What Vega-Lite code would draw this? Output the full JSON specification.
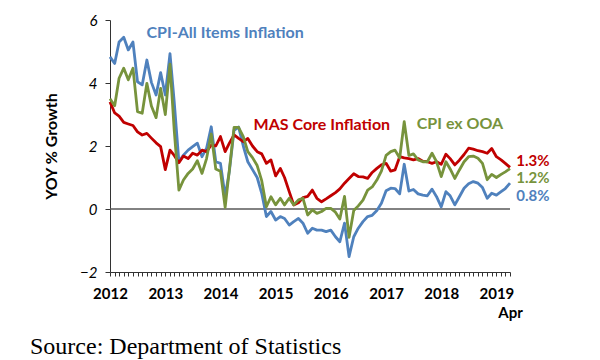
{
  "$schema": "https://vega.github.io/schema/vega-lite/v6.json",
  "width": 400,
  "height": 252,
  "autosize": {"type": "none"},
  "padding": {"left": 110, "top": 20, "right": 90, "bottom": 88},
  "background": "white",
  "config": {"view": {"stroke": null}, "font": "Lato"},
  "title": {"text": "Source: Department of Statistics", "orient": "bottom", "anchor": "start", "frame": "group", "dx": -80, "offset": 15, "font": "Liberation Serif", "fontSize": 24, "fontWeight": "normal", "color": "black"},
  "layer": [
    {
      "data": {"values": [{}]},
      "mark": {"type": "rule", "color": "#595959", "strokeWidth": 1.5},
      "encoding": {"y": {"datum": 0, "type": "quantitative"}}
    },
    {
      "data": {"values": [
        {"date": "2012-01-01", "cpi": 4.83, "core": 3.4, "exooa": 3.5},
        {"date": "2012-02-01", "cpi": 4.62, "core": 3.05, "exooa": 3.28},
        {"date": "2012-03-01", "cpi": 5.3, "core": 2.95, "exooa": 4.15},
        {"date": "2012-04-01", "cpi": 5.45, "core": 2.75, "exooa": 4.47},
        {"date": "2012-05-01", "cpi": 5.05, "core": 2.7, "exooa": 4.1},
        {"date": "2012-06-01", "cpi": 5.3, "core": 2.65, "exooa": 4.47},
        {"date": "2012-07-01", "cpi": 4.04, "core": 2.45, "exooa": 3.09},
        {"date": "2012-08-01", "cpi": 3.94, "core": 2.35, "exooa": 3.04},
        {"date": "2012-09-01", "cpi": 4.73, "core": 2.4, "exooa": 3.99},
        {"date": "2012-10-01", "cpi": 4.02, "core": 2.25, "exooa": 3.27},
        {"date": "2012-11-01", "cpi": 3.62, "core": 2.1, "exooa": 2.9},
        {"date": "2012-12-01", "cpi": 4.33, "core": 1.98, "exooa": 3.83},
        {"date": "2013-01-01", "cpi": 3.62, "core": 1.25, "exooa": 3.0},
        {"date": "2013-02-01", "cpi": 4.93, "core": 1.87, "exooa": 4.6},
        {"date": "2013-03-01", "cpi": 3.4, "core": 1.7, "exooa": 2.5},
        {"date": "2013-04-01", "cpi": 1.5, "core": 1.47, "exooa": 0.6},
        {"date": "2013-05-01", "cpi": 1.71, "core": 1.68, "exooa": 0.92},
        {"date": "2013-06-01", "cpi": 1.87, "core": 1.6, "exooa": 1.13},
        {"date": "2013-07-01", "cpi": 1.98, "core": 1.77, "exooa": 1.27},
        {"date": "2013-08-01", "cpi": 2.09, "core": 1.71, "exooa": 1.53},
        {"date": "2013-09-01", "cpi": 1.66, "core": 1.87, "exooa": 1.13},
        {"date": "2013-10-01", "cpi": 1.93, "core": 1.82, "exooa": 1.6},
        {"date": "2013-11-01", "cpi": 2.61, "core": 2.03, "exooa": 2.38},
        {"date": "2013-12-01", "cpi": 1.5, "core": 2.0, "exooa": 1.27},
        {"date": "2014-01-01", "cpi": 1.45, "core": 2.3, "exooa": 1.2},
        {"date": "2014-02-01", "cpi": 0.4, "core": 1.82, "exooa": 0.05},
        {"date": "2014-03-01", "cpi": 1.2, "core": 2.09, "exooa": 1.25},
        {"date": "2014-04-01", "cpi": 2.5, "core": 2.35, "exooa": 2.59},
        {"date": "2014-05-01", "cpi": 2.6, "core": 2.24, "exooa": 2.59},
        {"date": "2014-06-01", "cpi": 2.0, "core": 2.14, "exooa": 2.3},
        {"date": "2014-07-01", "cpi": 1.5, "core": 2.24, "exooa": 1.82},
        {"date": "2014-08-01", "cpi": 1.25, "core": 2.0, "exooa": 1.63},
        {"date": "2014-09-01", "cpi": 1.0, "core": 1.82, "exooa": 1.38},
        {"date": "2014-10-01", "cpi": 0.5, "core": 1.75, "exooa": 0.9},
        {"date": "2014-11-01", "cpi": -0.24, "core": 1.45, "exooa": 0.07},
        {"date": "2014-12-01", "cpi": -0.08, "core": 1.56, "exooa": 0.39},
        {"date": "2015-01-01", "cpi": -0.35, "core": 1.05, "exooa": 0.13},
        {"date": "2015-02-01", "cpi": -0.24, "core": 1.29, "exooa": 0.34},
        {"date": "2015-03-01", "cpi": -0.3, "core": 1.0, "exooa": 0.13},
        {"date": "2015-04-01", "cpi": -0.51, "core": 0.55, "exooa": 0.34},
        {"date": "2015-05-01", "cpi": -0.4, "core": 0.13, "exooa": 0.13},
        {"date": "2015-06-01", "cpi": -0.3, "core": 0.2, "exooa": 0.29},
        {"date": "2015-07-01", "cpi": -0.45, "core": 0.36, "exooa": 0.34},
        {"date": "2015-08-01", "cpi": -0.77, "core": 0.4, "exooa": -0.19},
        {"date": "2015-09-01", "cpi": -0.61, "core": 0.6, "exooa": -0.03},
        {"date": "2015-10-01", "cpi": -0.67, "core": 0.34, "exooa": -0.14},
        {"date": "2015-11-01", "cpi": -0.67, "core": 0.23, "exooa": -0.08},
        {"date": "2015-12-01", "cpi": -0.72, "core": 0.32, "exooa": 0.02},
        {"date": "2016-01-01", "cpi": -0.67, "core": 0.42, "exooa": 0.02},
        {"date": "2016-02-01", "cpi": -0.88, "core": 0.52, "exooa": -0.1},
        {"date": "2016-03-01", "cpi": -1.04, "core": 0.64, "exooa": -0.32},
        {"date": "2016-04-01", "cpi": -0.45, "core": 0.82, "exooa": 0.4},
        {"date": "2016-05-01", "cpi": -1.51, "core": 0.97, "exooa": -0.9},
        {"date": "2016-06-01", "cpi": -0.88, "core": 1.12, "exooa": -0.05},
        {"date": "2016-07-01", "cpi": -0.61, "core": 1.03, "exooa": 0.1},
        {"date": "2016-08-01", "cpi": -0.4, "core": 1.02, "exooa": 0.28},
        {"date": "2016-09-01", "cpi": -0.24, "core": 0.97, "exooa": 0.6},
        {"date": "2016-10-01", "cpi": -0.2, "core": 1.16, "exooa": 0.7},
        {"date": "2016-11-01", "cpi": -0.05, "core": 1.29, "exooa": 0.92},
        {"date": "2016-12-01", "cpi": 0.18, "core": 1.4, "exooa": 1.2},
        {"date": "2017-01-01", "cpi": 0.58, "core": 1.45, "exooa": 1.7},
        {"date": "2017-02-01", "cpi": 0.66, "core": 1.2, "exooa": 1.82},
        {"date": "2017-03-01", "cpi": 0.65, "core": 1.24, "exooa": 1.87},
        {"date": "2017-04-01", "cpi": 0.48, "core": 1.66, "exooa": 1.62},
        {"date": "2017-05-01", "cpi": 1.42, "core": 1.62, "exooa": 2.77},
        {"date": "2017-06-01", "cpi": 0.57, "core": 1.6, "exooa": 1.7},
        {"date": "2017-07-01", "cpi": 0.62, "core": 1.56, "exooa": 1.75},
        {"date": "2017-08-01", "cpi": 0.48, "core": 1.6, "exooa": 1.56},
        {"date": "2017-09-01", "cpi": 0.44, "core": 1.52, "exooa": 1.5},
        {"date": "2017-10-01", "cpi": 0.42, "core": 1.5, "exooa": 1.5},
        {"date": "2017-11-01", "cpi": 0.63, "core": 1.45, "exooa": 1.77},
        {"date": "2017-12-01", "cpi": 0.39, "core": 1.5, "exooa": 1.5},
        {"date": "2018-01-01", "cpi": 0.07, "core": 1.42, "exooa": 1.03},
        {"date": "2018-02-01", "cpi": 0.55, "core": 1.74, "exooa": 1.5},
        {"date": "2018-03-01", "cpi": 0.42, "core": 1.6, "exooa": 1.27},
        {"date": "2018-04-01", "cpi": 0.13, "core": 1.4, "exooa": 0.97},
        {"date": "2018-05-01", "cpi": 0.39, "core": 1.55, "exooa": 1.24},
        {"date": "2018-06-01", "cpi": 0.66, "core": 1.73, "exooa": 1.5},
        {"date": "2018-07-01", "cpi": 0.8, "core": 1.93, "exooa": 1.66},
        {"date": "2018-08-01", "cpi": 0.87, "core": 1.9, "exooa": 1.68},
        {"date": "2018-09-01", "cpi": 0.82, "core": 1.85, "exooa": 1.61},
        {"date": "2018-10-01", "cpi": 0.68, "core": 1.82, "exooa": 1.45},
        {"date": "2018-11-01", "cpi": 0.34, "core": 1.77, "exooa": 0.93},
        {"date": "2018-12-01", "cpi": 0.5, "core": 1.92, "exooa": 1.1},
        {"date": "2019-01-01", "cpi": 0.44, "core": 1.66, "exooa": 1.0},
        {"date": "2019-02-01", "cpi": 0.55, "core": 1.56, "exooa": 1.1},
        {"date": "2019-03-01", "cpi": 0.65, "core": 1.45, "exooa": 1.18},
        {"date": "2019-04-01", "cpi": 0.82, "core": 1.32, "exooa": 1.28}
      ]},
      "transform": [{"fold": ["cpi", "core", "exooa"], "as": ["series", "value"]}],
      "mark": {"type": "line", "strokeWidth": 2.8, "strokeJoin": "round"},
      "encoding": {
        "x": {
          "field": "date", "type": "temporal",
          "scale": {"type": "utc", "domain": [{"year": 2012, "month": 1, "date": 1, "utc": true}, {"year": 2019, "month": 4, "date": 1, "utc": true}]},
          "axis": {
            "title": null,
            "grid": false,
            "tickCount": {"interval": "month", "step": 1},
            "labelExpr": "utcmonth(datum.value) == 0 ? utcFormat(datum.value, '%Y') : ((utcyear(datum.value) == 2019 && utcmonth(datum.value) == 3) ? ['', 'Apr'] : '')",
            "labelOverlap": false,
            "labelFlush": false,
            "labelFont": "Lato",
            "labelFontWeight": "bold",
            "labelFontSize": 15,
            "labelColor": "black",
            "labelLineHeight": 19,
            "labelPadding": 10,
            "tickSize": 4,
            "tickColor": "#333333",
            "domainColor": "#333333"
          }
        },
        "y": {
          "field": "value", "type": "quantitative",
          "scale": {"domain": [-2, 6], "nice": false, "zero": false},
          "axis": {
            "values": [-2, 0, 2, 4, 6],
            "title": "YOY % Growth",
            "titleFont": "Lato",
            "titleFontSize": 16,
            "titleFontWeight": "bold",
            "titleColor": "black",
            "titlePadding": 20,
            "grid": false,
            "labelFont": "Lato",
            "labelFontStyle": "italic",
            "labelFontSize": 15,
            "labelColor": "black",
            "labelPadding": 8,
            "tickSize": 5,
            "tickColor": "#333333",
            "domainColor": "#333333"
          }
        },
        "color": {
          "field": "series", "type": "nominal",
          "scale": {"domain": ["cpi", "core", "exooa"], "range": ["#4F81BD", "#C00000", "#77933C"]},
          "legend": null
        }
      }
    },
    {
      "data": {"values": [{}]},
      "mark": {"type": "text", "text": "CPI-All Items Inflation", "font": "Lato", "fontWeight": "bold", "fontSize": 16, "color": "#4F81BD", "align": "center", "baseline": "middle"},
      "encoding": {"x": {"datum": {"year": 2014, "month": 2, "date": 1, "utc": true}, "type": "temporal"}, "y": {"datum": 5.6, "type": "quantitative"}}
    },
    {
      "data": {"values": [{}]},
      "mark": {"type": "text", "text": "MAS Core Inflation", "font": "Lato", "fontWeight": "bold", "fontSize": 16, "color": "#C00000", "align": "center", "baseline": "middle"},
      "encoding": {"x": {"datum": {"year": 2015, "month": 11, "date": 3, "utc": true}, "type": "temporal"}, "y": {"datum": 2.67, "type": "quantitative"}}
    },
    {
      "data": {"values": [{}]},
      "mark": {"type": "text", "text": "CPI ex OOA", "font": "Lato", "fontWeight": "bold", "fontSize": 16, "color": "#77933C", "align": "center", "baseline": "middle"},
      "encoding": {"x": {"datum": {"year": 2018, "month": 5, "date": 5, "utc": true}, "type": "temporal"}, "y": {"datum": 2.69, "type": "quantitative"}}
    },
    {
      "data": {"values": [{}]},
      "mark": {"type": "text", "text": "1.3%", "font": "Lato", "fontWeight": "bold", "fontSize": 15, "color": "#C00000", "align": "left", "baseline": "middle"},
      "encoding": {"x": {"datum": {"year": 2019, "month": 5, "date": 13, "utc": true}, "type": "temporal"}, "y": {"datum": 1.52, "type": "quantitative"}}
    },
    {
      "data": {"values": [{}]},
      "mark": {"type": "text", "text": "1.2%", "font": "Lato", "fontWeight": "bold", "fontSize": 15, "color": "#77933C", "align": "left", "baseline": "middle"},
      "encoding": {"x": {"datum": {"year": 2019, "month": 5, "date": 13, "utc": true}, "type": "temporal"}, "y": {"datum": 0.97, "type": "quantitative"}}
    },
    {
      "data": {"values": [{}]},
      "mark": {"type": "text", "text": "0.8%", "font": "Lato", "fontWeight": "bold", "fontSize": 15, "color": "#4F81BD", "align": "left", "baseline": "middle"},
      "encoding": {"x": {"datum": {"year": 2019, "month": 5, "date": 13, "utc": true}, "type": "temporal"}, "y": {"datum": 0.41, "type": "quantitative"}}
    }
  ]
}
